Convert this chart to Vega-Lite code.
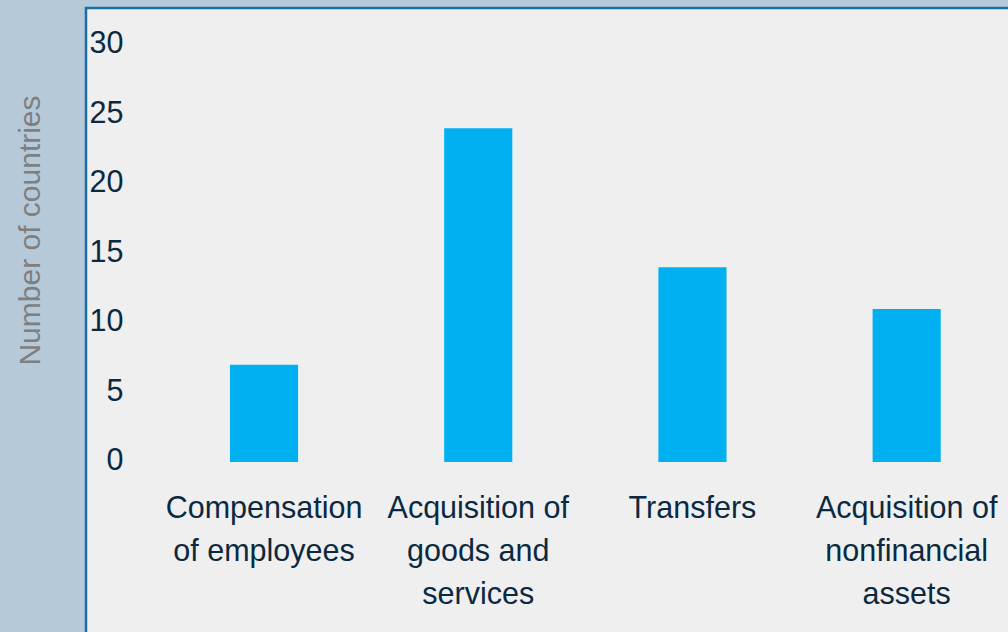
{
  "$schema": "https://vega.github.io/schema/vega-lite/v6.json",
  "autosize": {"type": "none"},
  "padding": {"left": 86, "top": 8, "right": 0, "bottom": 0},
  "width": 925,
  "height": 627,
  "background": "#b6c9d9",
  "config": {
    "font": "Liberation Sans, Arial",
    "view": {"fill": "#efefef", "stroke": "#1b6fa8", "strokeWidth": 2.5}
  },
  "data": {
    "values": [
      {"category": "Compensation of employees", "countries": 7},
      {"category": "Acquisition of goods and services", "countries": 24},
      {"category": "Transfers", "countries": 14},
      {"category": "Acquisition of nonfinancial assets", "countries": 11}
    ]
  },
  "mark": {"type": "bar", "color": "#00b0f0"},
  "encoding": {
    "x": {
      "field": "category",
      "type": "nominal",
      "sort": null,
      "scale": {"paddingInner": 0.682, "paddingOuter": 0.5, "align": 0.672},
      "axis": {
        "orient": "bottom",
        "offset": -173,
        "title": null,
        "domain": false,
        "ticks": false,
        "grid": false,
        "labelAngle": 0,
        "labelPadding": 31,
        "labelFontSize": 30.5,
        "labelLineHeight": 43,
        "labelBaseline": "top",
        "labelAlign": "center",
        "labelColor": "#0b2940",
        "labelLimit": 500,
        "labelOverlap": false,
        "labelExpr": "datum.value === 'Compensation of employees' ? ['Compensation', 'of employees'] : datum.value === 'Acquisition of goods and services' ? ['Acquisition of', 'goods and', 'services'] : datum.value === 'Acquisition of nonfinancial assets' ? ['Acquisition of', 'nonfinancial', 'assets'] : datum.value"
      }
    },
    "y": {
      "field": "countries",
      "type": "quantitative",
      "scale": {"domain": [-12.45, 32.66], "nice": false, "zero": false},
      "axis": {
        "orient": "left",
        "offset": -37,
        "values": [0, 5, 10, 15, 20, 25, 30],
        "domain": false,
        "ticks": false,
        "grid": false,
        "labelPadding": 0,
        "labelAlign": "right",
        "labelBaseline": "middle",
        "labelOffset": -1,
        "labelFontSize": 30.5,
        "labelColor": "#0b2940",
        "labelOverlap": false,
        "labelFlush": false,
        "title": "Number of countries",
        "titleFontSize": 30,
        "titleFontWeight": "normal",
        "titleColor": "#7f7f7f",
        "titleAngle": -90,
        "titleAlign": "center",
        "titleBaseline": "middle",
        "titleX": -93,
        "titleY": 222
      }
    },
    "y2": {"datum": 0}
  }
}
